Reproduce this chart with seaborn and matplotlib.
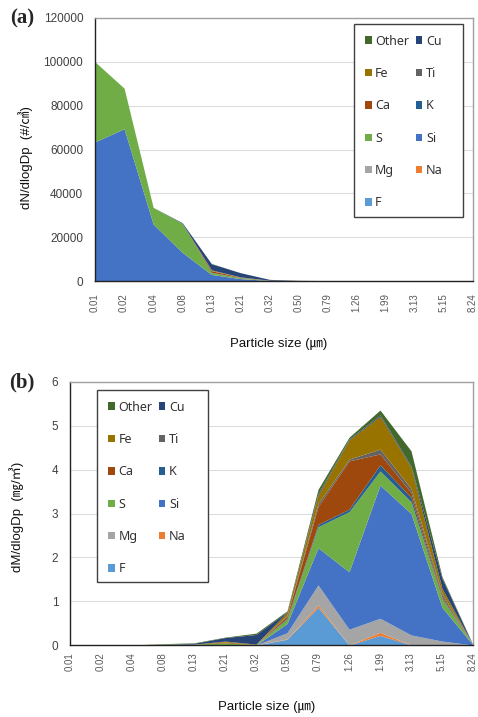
import numpy as np
import matplotlib
matplotlib.use("Agg")
import matplotlib.pyplot as plt
from matplotlib.patches import Patch, Rectangle
import seaborn as sns

sizes = ["0.01", "0.02", "0.04", "0.08", "0.13", "0.21", "0.32",
         "0.50", "0.79", "1.26", "1.99", "3.13", "5.15", "8.24"]
elements = ["F", "Na", "Mg", "Si", "S", "K", "Ca", "Ti", "Fe", "Cu", "Other"]
colors = ["#5B9BD5", "#ED7D31", "#A5A5A5", "#4472C4", "#70AD47", "#255E91",
          "#9E480E", "#636363", "#997300", "#264478", "#43682B"]

# (a) number distribution dN/dlogDp
N_F = [0, 0, 0, 0, 0, 0, 0, 0, 0, 0, 0, 0, 0, 0]
N_Na = [0, 0, 0, 0, 100, 50, 0, 0, 0, 0, 0, 0, 0, 0]
N_Mg = [0, 0, 0, 0, 100, 50, 10, 0, 0, 0, 0, 0, 0, 0]
N_Si = [63500, 69500, 26000, 13100, 2800, 1000, 200, 60, 40, 10, 5, 0, 0, 0]
N_S = [36500, 18500, 7600, 13200, 900, 400, 100, 60, 40, 10, 5, 0, 0, 0]
N_K = [0, 0, 0, 0, 100, 50, 10, 0, 0, 0, 0, 0, 0, 0]
N_Ca = [0, 0, 0, 0, 700, 200, 20, 10, 10, 0, 0, 0, 0, 0]
N_Ti = [0, 0, 0, 0, 100, 30, 10, 0, 0, 0, 0, 0, 0, 0]
N_Fe = [0, 0, 0, 0, 300, 100, 30, 100, 60, 10, 5, 0, 0, 0]
N_Cu = [0, 0, 0, 300, 2800, 1900, 350, 50, 20, 0, 0, 0, 0, 0]
N_Other = [0, 0, 0, 0, 100, 20, 20, 20, 20, 5, 0, 0, 0, 0]

# (b) mass distribution dM/dlogDp
M_F = [0, 0, 0, 0, 0, 0, 0, 0.13, 0.86, 0, 0.22, 0, 0, 0]
M_Na = [0, 0, 0, 0, 0, 0, 0, 0.01, 0.05, 0, 0.07, 0, 0, 0]
M_Mg = [0, 0, 0, 0, 0, 0, 0, 0.14, 0.46, 0.36, 0.32, 0.23, 0.09, 0]
M_Si = [0, 0, 0, 0, 0, 0, 0, 0.21, 0.85, 1.31, 3.04, 2.77, 0.77, 0]
M_S = [0, 0, 0, 0.02, 0.02, 0.05, 0.01, 0.10, 0.48, 1.37, 0.32, 0.27, 0.20, 0]
M_K = [0, 0, 0, 0, 0, 0, 0, 0.02, 0.05, 0.06, 0.14, 0.10, 0.03, 0]
M_Ca = [0, 0, 0, 0, 0, 0.02, 0, 0.05, 0.41, 1.10, 0.25, 0.11, 0.05, 0]
M_Ti = [0, 0, 0, 0, 0, 0, 0, 0.02, 0.07, 0.04, 0.11, 0.09, 0.04, 0]
M_Fe = [0, 0, 0, 0, 0, 0.02, 0.01, 0.07, 0.19, 0.44, 0.75, 0.48, 0.11, 0]
M_Cu = [0, 0, 0, 0, 0.02, 0.08, 0.22, 0.01, 0.04, 0.02, 0.03, 0.03, 0.23, 0]
M_Other = [0, 0, 0, 0.01, 0.01, 0.01, 0.03, 0.02, 0.09, 0.04, 0.11, 0.35, 0.04, 0]

yticks_a = [0, 20000, 40000, 60000, 80000, 100000, 120000]
yticks_b = [0, 1, 2, 3, 4, 5, 6]

sns.set_theme(style="white")
plt.rcParams["font.family"] = ["Liberation Sans", "Noto Sans CJK KR", "DejaVu Sans"]
LBL_FONT = ["Liberation Sans", "Noto Sans CJK KR"]

W, H = 478, 717
fig = plt.figure(figsize=(W / 100, H / 100), dpi=100)
axA = fig.add_axes([95 / W, 1 - 281 / H, 378 / W, 263 / H])
axB = fig.add_axes([70 / W, 1 - 645 / H, 403 / W, 263 / H])

legend_order = ["Other", "Fe", "Ca", "S", "Mg", "F", "Cu", "Ti", "K", "Si", "Na"]


def draw(ax, series, yticks, xpad, box):
    x = np.arange(len(sizes))
    ax.stackplot(x, *series, colors=colors, labels=elements, linewidth=0)
    ax.set_xlim(0, len(sizes) - 1)
    ax.set_ylim(yticks[0], yticks[-1])
    ax.set_xticks(x)
    ax.set_xticklabels(sizes, rotation=90, fontsize=7, color="#595959")
    ax.set_yticks(yticks)
    ax.set_yticklabels([str(t) for t in yticks], fontsize=8.5, color="#404040")
    ax.tick_params(axis="x", direction="in", length=3, width=0.8, color="#222222", pad=xpad)
    ax.tick_params(axis="y", length=0, pad=8.5)
    ax.yaxis.grid(True, color="#dcdcdc", linewidth=0.8)
    ax.xaxis.grid(False)
    ax.set_axisbelow(True)
    for s in ["left", "bottom"]:
        ax.spines[s].set_color("#222222")
        ax.spines[s].set_linewidth(1.0)
    for s in ["top", "right"]:
        ax.spines[s].set_color("#a0a0a0")
        ax.spines[s].set_linewidth(1.0)
    # legend frame (fixed size like the source chart)
    bx0, by0, bw, bh = box
    ax.add_patch(Rectangle((bx0, by0), bw, bh, transform=ax.transAxes,
                           facecolor="white", edgecolor="#404040", linewidth=1.0,
                           zorder=4.5))
    cmap = dict(zip(elements, colors))
    handles = [Patch(facecolor=cmap[e], edgecolor="none") for e in legend_order]
    leg = ax.legend(handles, legend_order, ncol=2, loc="upper left",
                    bbox_to_anchor=(bx0, by0 + bh), borderaxespad=0, frameon=False,
                    prop={"family": ["Noto Sans"], "size": 9},
                    handlelength=0.55, handleheight=0.55, handletextpad=0.3,
                    columnspacing=0.5, labelspacing=1.55, borderpad=0.85)
    leg.set_zorder(5)
    for t in leg.get_texts():
        t.set_color("#333333")


draw(axA, [N_F, N_Na, N_Mg, N_Si, N_S, N_K, N_Ca, N_Ti, N_Fe, N_Cu, N_Other],
     yticks_a, 9, ((354 - 95) / 378, (281 - 217) / 263, 109 / 378, 193 / 263))
draw(axB, [M_F, M_Na, M_Mg, M_Si, M_S, M_K, M_Ca, M_Ti, M_Fe, M_Cu, M_Other],
     yticks_b, 5, ((97 - 70) / 403, (645 - 582) / 263, 111 / 403, 192 / 263))

fig.text(26 / W, 1 - 158 / H, "dN/dlogDp  (#/㎤)", rotation=90, ha="center",
         va="center", fontsize=9.5, family=LBL_FONT, color="#111111")
fig.text(17 / W, 1 - 517 / H, "dM/dlogDp  (㎎/㎥)", rotation=90, ha="center",
         va="center", fontsize=9.5, family=LBL_FONT, color="#111111")
fig.text(279 / W, 1 - 344 / H, "Particle size (㎛)", ha="center", va="center",
         fontsize=9.5, family=LBL_FONT, color="#111111")
fig.text(267 / W, 1 - 707 / H, "Particle size (㎛)", ha="center", va="center",
         fontsize=9.5, family=LBL_FONT, color="#111111")
fig.text(22 / W, 1 - 18 / H, "(a)", ha="center", va="center", fontsize=15,
         fontweight="bold", family=["Liberation Serif"])
fig.text(22 / W, 1 - 382 / H, "(b)", ha="center", va="center", fontsize=15,
         fontweight="bold", family=["Liberation Serif"])

fig.savefig("out.png", dpi=100)
